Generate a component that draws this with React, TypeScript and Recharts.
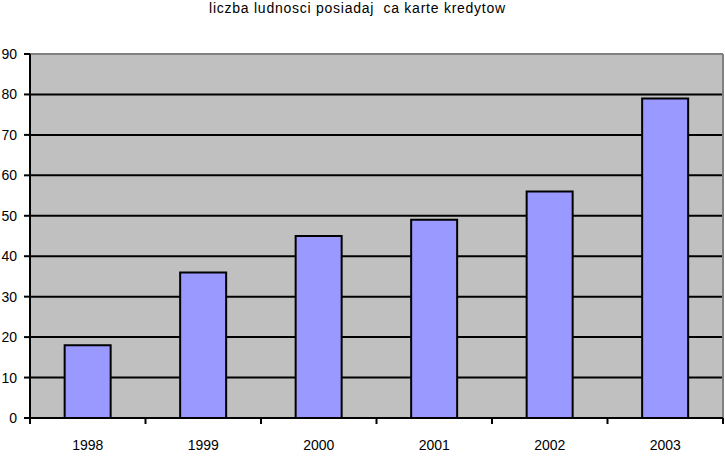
import React from "react";
import {
  BarChart,
  Bar,
  XAxis,
  YAxis,
  CartesianGrid,
  ReferenceLine,
} from "recharts";

const years = ["1998", "1999", "2000", "2001", "2002", "2003"];
const holders = [18, 36, 45, 49, 56, 79];
const yTicks = [0, 10, 20, 30, 40, 50, 60, 70, 80, 90];
const edgeTicks = [0, 1, 2, 3, 4, 5, 6];

const data = years.map((year, i) => ({ year, value: holders[i], pos: i + 0.5 }));

const FONT = "'Liberation Sans', Arial, sans-serif";

// tick marks only, no label
const NoLabel = () => <g />;

const App: React.FC = () => {
  return (
    <div style={{ position: "absolute", left: 0, top: 0, width: 725, height: 456, background: "#fff" }}>
      <div
        style={{
          position: "absolute",
          top: 1,
          left: -5,
          width: 725,
          textAlign: "center",
          fontFamily: FONT,
          fontSize: 14,
          lineHeight: "14px",
          letterSpacing: "0.75px",
          color: "#000",
          whiteSpace: "pre",
        }}
      >
        {"liczba ludnosci posiadaj  ca karte kredytow"}
      </div>
      <BarChart
        width={725}
        height={456}
        data={data}
        margin={{ top: 54, right: 2, bottom: 0, left: 0 }}
        barCategoryGap="30%"
        style={{ fontFamily: FONT }}
      >
        <CartesianGrid
          xAxisId="years"
          vertical={false}
          stroke="#000"
          strokeWidth={2}
          fill="#C0C0C0"
          fillOpacity={1}
        />
        <XAxis
          xAxisId="edges"
          type="number"
          dataKey="pos"
          domain={[0, 6]}
          ticks={edgeTicks}
          interval={0}
          tick={<NoLabel />}
          tickSize={6}
          height={6}
          axisLine={{ stroke: "#000", strokeWidth: 2 }}
          tickLine={{ stroke: "#000", strokeWidth: 2 }}
        />
        <XAxis
          xAxisId="years"
          dataKey="year"
          height={32}
          axisLine={false}
          tickLine={false}
          tickMargin={10}
          tick={{ fill: "#000", fontSize: 14, fontFamily: FONT }}
        />
        <YAxis
          domain={[0, 90]}
          ticks={yTicks}
          width={30}
          tickSize={6}
          tickMargin={7}
          axisLine={{ stroke: "#000", strokeWidth: 2 }}
          tickLine={{ stroke: "#000", strokeWidth: 2 }}
          tick={{ fill: "#000", fontSize: 14, fontFamily: FONT }}
        />
        <ReferenceLine xAxisId="years" y={90} stroke="#808080" strokeWidth={2} />
        <ReferenceLine xAxisId="edges" x={6} stroke="#808080" strokeWidth={2} />
        <Bar
          xAxisId="years"
          dataKey="value"
          fill="#9999FF"
          stroke="#000"
          strokeWidth={2}
          isAnimationActive={false}
        />
      </BarChart>
    </div>
  );
};

export default App;
